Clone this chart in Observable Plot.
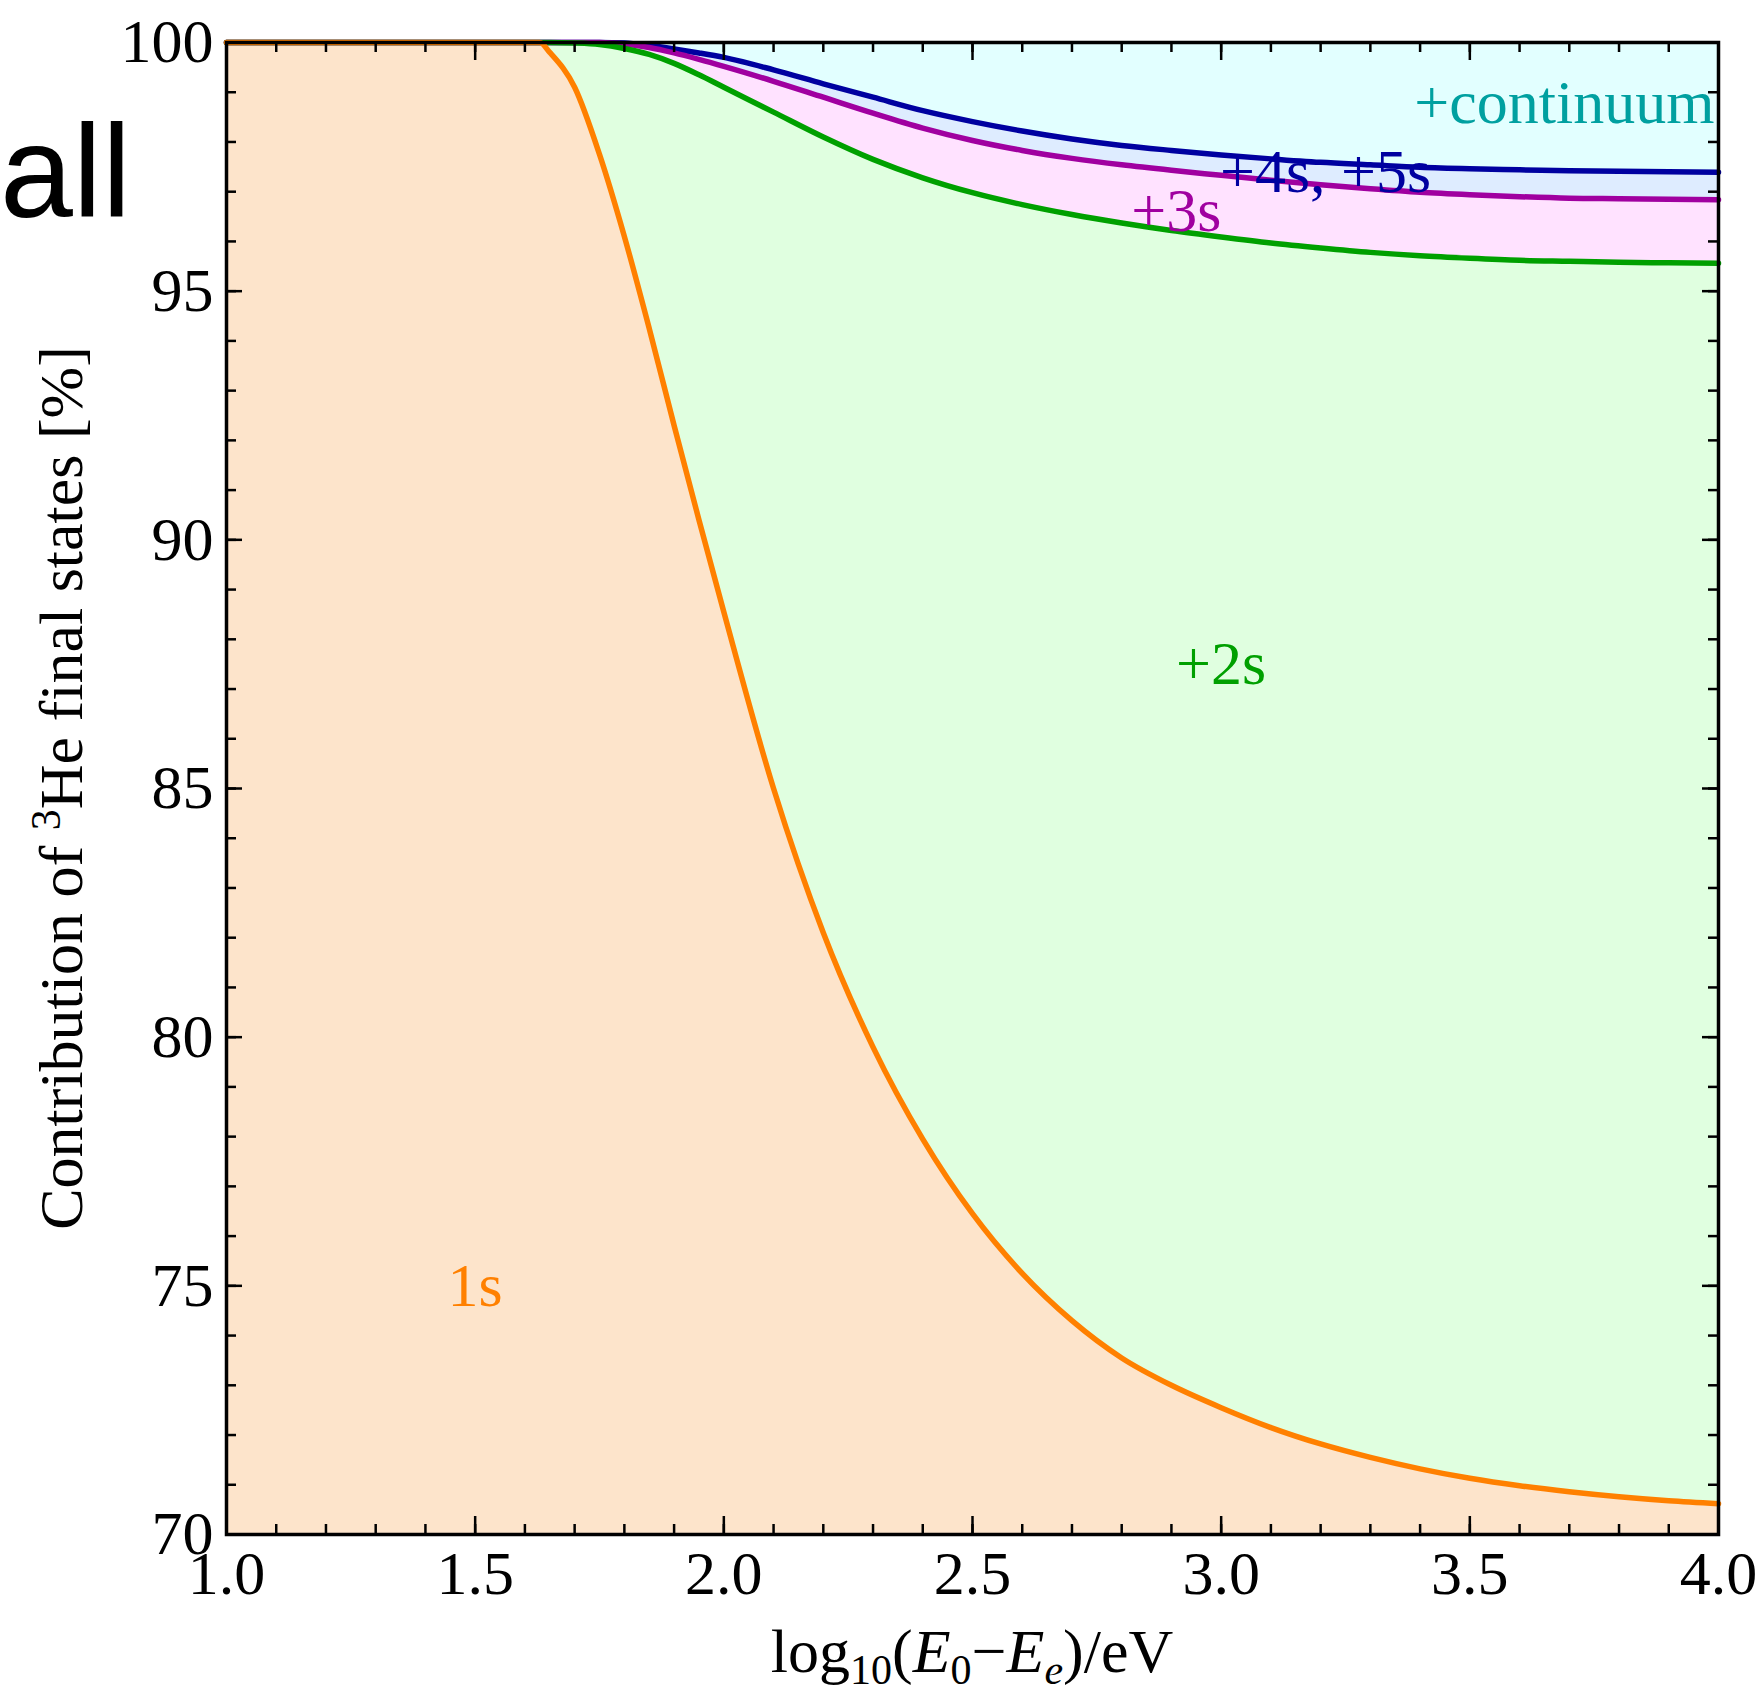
<!DOCTYPE html>
<html>
<head>
<meta charset="utf-8">
<script src="https://cdn.jsdelivr.net/npm/d3@7"></script>
<script src="https://cdn.jsdelivr.net/npm/@observablehq/plot@0.6"></script>
<style>
  html, body { margin: 0; padding: 0; background: #fff; overflow: hidden; }
  #chart svg { display: block; }
</style>
</head>
<body>
<div id="chart"></div>
<script>
// log10((E0 - Ee)/eV) sample points
const energies = [1.0, 1.1, 1.2, 1.3, 1.4, 1.5, 1.6, 1.63, 1.65, 1.7, 1.75, 1.8, 1.85, 1.9, 1.95,
  2.0, 2.1, 2.2, 2.3, 2.4, 2.5, 2.6, 2.7, 2.8, 2.9, 3.0, 3.1, 3.2, 3.3, 3.4, 3.5, 3.6, 3.7, 3.8, 3.9, 4.0];

// cumulative contribution of 3He final states [%]
const cum1s = [100, 100, 100, 100, 100, 100, 100, 100, 99.8, 99.1, 97.75, 96.1, 94.25, 92.3, 90.4,
  88.55, 85.0, 82.1, 79.8, 77.95, 76.45, 75.25, 74.3, 73.55, 73.0, 72.55, 72.15, 71.82, 71.55, 71.32, 71.13, 70.98, 70.86, 70.76, 70.68, 70.62];
const cum2s = [100, 100, 100, 100, 100, 100, 100, 100, 100, 99.99, 99.96, 99.88, 99.76, 99.58, 99.35,
  99.1, 98.6, 98.1, 97.65, 97.28, 96.98, 96.74, 96.54, 96.37, 96.22, 96.09, 95.97, 95.87, 95.78, 95.71, 95.66, 95.62, 95.6, 95.58, 95.57, 95.56];
const cum3s = [100, 100, 100, 100, 100, 100, 100, 100, 100, 100, 100, 99.97, 99.9, 99.79, 99.66,
  99.52, 99.22, 98.9, 98.58, 98.28, 98.03, 97.83, 97.67, 97.54, 97.43, 97.33, 97.23, 97.14, 97.06, 96.99, 96.94, 96.9, 96.87, 96.86, 96.85, 96.84];
const cum5s = [100, 100, 100, 100, 100, 100, 100, 100, 100, 100, 100, 99.99, 99.94, 99.87, 99.79,
  99.7, 99.45, 99.17, 98.9, 98.63, 98.41, 98.22, 98.06, 97.93, 97.83, 97.74, 97.66, 97.59, 97.54, 97.49, 97.46, 97.44, 97.42, 97.41, 97.4, 97.39];

// in-plot labels
const labelTexts = ["1s", "+2s", "+3s", "+4s, +5s", "+continuum"];
const labelX = [1.5, 3.0, 2.91, 3.21, 3.69];
const labelY = [75, 87.5, 96.6, 97.39, 98.79];
const labelColors = ["#ff8000", "#00a000", "#a000a0", "#0000a0", "#00a0a0"];

// axes
const xDomain = [1, 4];
const yDomain = [70, 100];
const xMajorTicks = [1.0, 1.5, 2.0, 2.5, 3.0, 3.5, 4.0];
const xMinorTicks = d3.range(10, 41).map(d => d / 10);
const yMajorTicks = [70, 75, 80, 85, 90, 95, 100];
const yMinorTicks = d3.range(70, 101);

const W = 1762, H = 1697;
const mL = 226, mR = 44, mT = 42, mB = 163;
const innerW = W - mL - mR, innerH = H - mT - mB;
const serif = "'Liberation Serif', 'Times New Roman', serif";
const sans = "'Liberation Sans', Arial, Helvetica, sans-serif";

const rows = energies.map((x, i) => ({x, s1: cum1s[i], s2: cum2s[i], s3: cum3s[i], s5: cum5s[i]}));
const labels = labelTexts.map((t, i) => ({t, x: labelX[i], y: labelY[i], c: labelColors[i]}));

const curve = "monotone-x";
const lw = 5.5;

const svg = Plot.plot({
  width: W,
  height: H,
  marginLeft: mL,
  marginRight: mR,
  marginTop: mT,
  marginBottom: mB,
  style: {fontFamily: serif, fontSize: "62px", color: "black", background: "white"},
  x: {domain: xDomain, label: null},
  y: {domain: yDomain, label: null},
  marks: [
    // stacked bands
    Plot.areaY(rows, {x: "x", y1: yDomain[0], y2: "s1", fill: "#fde4cb", curve}),
    Plot.areaY(rows, {x: "x", y1: "s1", y2: "s2", fill: "#e0ffe0", curve}),
    Plot.areaY(rows, {x: "x", y1: "s2", y2: "s3", fill: "#ffe2ff", curve}),
    Plot.areaY(rows, {x: "x", y1: "s3", y2: "s5", fill: "#deecff", curve}),
    Plot.areaY(rows, {x: "x", y1: "s5", y2: yDomain[1], fill: "#e2ffff", curve}),
    // boundary curves
    Plot.line(rows, {x: "x", y: "s5", stroke: "#0000a0", strokeWidth: lw, curve}),
    Plot.line(rows, {x: "x", y: "s3", stroke: "#a000a0", strokeWidth: lw, curve}),
    Plot.line(rows, {x: "x", y: "s2", stroke: "#00a000", strokeWidth: lw, curve}),
    Plot.line(rows, {x: "x", y: "s1", stroke: "#ff8000", strokeWidth: lw, curve}),
    // frame
    Plot.frame({stroke: "black", strokeWidth: 3.5}),
    // inward ticks on all four sides
    Plot.tickX(xMinorTicks, {x: d => d, insetTop: innerH - 10, stroke: "black", strokeWidth: 2.5}),
    Plot.tickX(xMajorTicks, {x: d => d, insetTop: innerH - 18, stroke: "black", strokeWidth: 2.5}),
    Plot.tickX(xMinorTicks, {x: d => d, insetBottom: innerH - 10, stroke: "black", strokeWidth: 2.5}),
    Plot.tickX(xMajorTicks, {x: d => d, insetBottom: innerH - 18, stroke: "black", strokeWidth: 2.5}),
    Plot.tickY(yMinorTicks, {y: d => d, insetRight: innerW - 10, stroke: "black", strokeWidth: 2.5}),
    Plot.tickY(yMajorTicks, {y: d => d, insetRight: innerW - 16, stroke: "black", strokeWidth: 2.5}),
    Plot.tickY(yMinorTicks, {y: d => d, insetLeft: innerW - 10, stroke: "black", strokeWidth: 2.5}),
    Plot.tickY(yMajorTicks, {y: d => d, insetLeft: innerW - 16, stroke: "black", strokeWidth: 2.5}),
    // tick labels
    Plot.axisX({ticks: xMajorTicks, tickSize: 0, tickPadding: 15, tickFormat: d3.format(".1f"),
      fontSize: 62, fontFamily: serif, fill: "black", label: null}),
    Plot.axisY({ticks: yMajorTicks, tickSize: 0, tickPadding: 13, tickFormat: d3.format("d"),
      fontSize: 62, fontFamily: serif, fill: "black", label: null}),
    // state labels
    Plot.text(labels, {x: "x", y: "y", text: "t", fill: "c", fontSize: 62, fontFamily: serif, textAnchor: "middle"})
  ]
});

const root = d3.select(svg);

// x-axis title: log10(E0−Ee)/eV
const xt = root.append("text")
  .attr("x", mL + innerW / 2)
  .attr("y", 1672)
  .attr("text-anchor", "middle")
  .attr("font-family", serif)
  .attr("font-size", 62)
  .attr("fill", "black");
xt.append("tspan").text("log");
xt.append("tspan").attr("font-size", 42).attr("dy", 12).text("10");
xt.append("tspan").attr("dy", -12).text("(");
xt.append("tspan").attr("font-style", "italic").text("E");
xt.append("tspan").attr("font-size", 42).attr("dy", 12).text("0");
xt.append("tspan").attr("dy", -12).text("\u2212");
xt.append("tspan").attr("font-style", "italic").text("E");
xt.append("tspan").attr("font-size", 42).attr("font-style", "italic").attr("dy", 12).text("e");
xt.append("tspan").attr("dy", -12).text(")/eV");

// y-axis title: Contribution of 3He final states [%]
const yt = root.append("text")
  .attr("transform", `translate(82,${mT + innerH / 2}) rotate(-90)`)
  .attr("text-anchor", "middle")
  .attr("font-family", serif)
  .attr("font-size", 62)
  .attr("fill", "black");
yt.append("tspan").text("Contribution of ");
yt.append("tspan").attr("font-size", 42).attr("dy", -22).text("3");
yt.append("tspan").attr("dy", 22).text("He final states [%]");

// panel tag
root.append("text")
  .attr("x", 0)
  .attr("y", 217)
  .attr("text-anchor", "start")
  .attr("font-family", sans)
  .attr("font-size", 131)
  .attr("fill", "black")
  .text("all");

document.getElementById("chart").appendChild(svg);
</script>
</body>
</html>
